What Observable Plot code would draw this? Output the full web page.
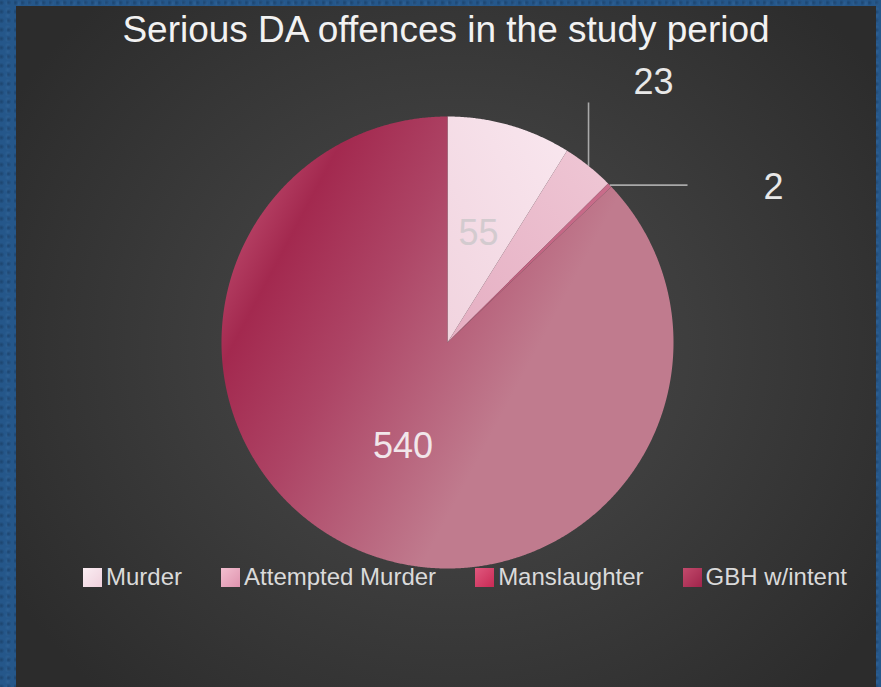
<!DOCTYPE html>
<html>
<head>
<meta charset="utf-8">
<script src="https://cdn.jsdelivr.net/npm/d3@7"></script>
<script src="https://cdn.jsdelivr.net/npm/@observablehq/plot@0.6"></script>
<style>
  html, body { margin: 0; padding: 0; width: 881px; height: 687px; overflow: hidden; }
  body {
    background-color: #25578a;
    background-image:
      radial-gradient(circle at 20% 30%, rgba(20,50,85,0.5) 0, rgba(20,50,85,0) 3px),
      radial-gradient(circle at 70% 60%, rgba(60,110,160,0.4) 0, rgba(60,110,160,0) 3px);
    background-size: 7px 9px, 11px 6px;
    font-family: "Liberation Sans", Arial, sans-serif;
    position: relative;
  }
  #panel {
    position: absolute; left: 16px; top: 6px; width: 860px; height: 681px;
    background: radial-gradient(ellipse 60% 70% at 51% 50%, #484848 0%, #3e3e3e 45%, #2c2c2c 100%);
  }
  #title {
    position: absolute; left: 0; top: 5px; width: 860px; text-align: center;
    font-size: 37px; line-height: 37px; color: #f2f2f2; white-space: nowrap;
  }
  #chart { position: absolute; left: 0; top: 44px; }
  #legend {
    position: absolute; left: 67px; top: 559px; display: flex; align-items: center;
    gap: 39px; font-size: 24px; line-height: 24px; color: #dadada; white-space: nowrap;
  }
  .item { display: flex; align-items: center; gap: 4px; }
  .sw { width: 19px; height: 19px; display: inline-block; }
</style>
</head>
<body>
<svg width="0" height="0" style="position:absolute">
  <defs>
    <linearGradient id="gMurder" x1="1" y1="0" x2="0" y2="1">
      <stop offset="0" stop-color="#f9e7ef"/>
      <stop offset="1" stop-color="#f1d4df"/>
    </linearGradient>
    <linearGradient id="gAttempt" x1="1" y1="0" x2="0" y2="1">
      <stop offset="0" stop-color="#efc7d5"/>
      <stop offset="1" stop-color="#e5aec2"/>
    </linearGradient>
    <linearGradient id="gMans" x1="1" y1="0" x2="0" y2="1">
      <stop offset="0" stop-color="#c96d8b"/>
      <stop offset="1" stop-color="#bd5a7a"/>
    </linearGradient>
    <linearGradient id="gGBH" x1="0" y1="0.38" x2="0.6" y2="0.7">
      <stop offset="0" stop-color="#b23c60"/>
      <stop offset="0.12" stop-color="#a3294f"/>
      <stop offset="0.45" stop-color="#ad4465"/>
      <stop offset="1" stop-color="#c07b8e"/>
    </linearGradient>
  </defs>
</svg>
<div id="panel">
  <div id="title">Serious DA offences in the study period</div>
  <div id="chart"></div>
  <div id="legend"></div>
</div>
<script>
// ---- data ----
const categories = ["Murder", "Attempted Murder", "Manslaughter", "GBH w/intent"];
const counts = [55, 23, 2, 540];
const valueLabels = ["55", "23", "2", "540"];

// ---- styles ----
const sliceFills = ["url(#gMurder)", "url(#gAttempt)", "url(#gMans)", "url(#gGBH)"];
const legendSwatches = [
  "linear-gradient(135deg, #fbeef3, #efd0dc)",
  "linear-gradient(135deg, #f2bfd0, #df93ae)",
  "linear-gradient(135deg, #e0587e, #c92a55)",
  "linear-gradient(135deg, #c24a6c, #a0244b)"
];

// ---- geometry from data ----
const arcs = d3.pie().sort(null).value(d => d)(counts);
const wedges = arcs.map((a, i) => {
  const n = Math.max(4, Math.ceil((a.endAngle - a.startAngle) / 0.005));
  const pts = [{x: 0, y: 0}];
  for (let k = 0; k <= n; k++) {
    const t = a.startAngle + (a.endAngle - a.startAngle) * k / n;
    pts.push({x: Math.sin(t), y: Math.cos(t)});
  }
  return pts;
});
const mids = arcs.map(a => (a.startAngle + a.endAngle) / 2);

// inside labels (Murder, GBH) at half radius
const inside = [0, 3].map(i => ({
  label: valueLabels[i], x: 0.5 * Math.sin(mids[i]), y: 0.5 * Math.cos(mids[i]), i
}));
// outside labels with leader lines (Attempted Murder, Manslaughter)
const elbow = 1.062;
const leaders = [
  {i: 1, x1: Math.sin(mids[1]), y1: Math.cos(mids[1]), x2: Math.sin(mids[1]), y2: elbow, dx: 65, dy: -20},
  {i: 2, x1: Math.sin(mids[2]), y1: Math.cos(mids[2]), x2: elbow, y2: Math.cos(mids[2]), dx: 86, dy: 2}
];

const R = 226;
const W = 860, H = 560;
const cx = 431, cy = 292;

const plot = Plot.plot({
  width: W, height: H,
  marginLeft: cx - R, marginRight: W - (cx + R),
  marginTop: cy - R, marginBottom: H - (cy + R),
  x: {domain: [-1, 1], axis: null},
  y: {domain: [-1, 1], axis: null},
  style: {background: "transparent", overflow: "visible", fontFamily: "'Liberation Sans', Arial, sans-serif"},
  marks: [
    ...wedges.map((pts, i) => Plot.line(pts, {x: "x", y: "y", fill: sliceFills[i], stroke: "none"})),
    Plot.link(leaders, {x1: "x1", y1: "y1", x2: "x2", y2: "y2", stroke: "#a9a9a9", strokeWidth: 1.6}),
    Plot.text([inside[0]], {x: "x", y: "y", text: "label", fill: "#d3cbcf", fontSize: 36}),
    Plot.text([inside[1]], {x: "x", y: "y", text: "label", fill: "#f1e6ea", fontSize: 36}),
    ...leaders.map(d => Plot.text([d], {x: "x2", y: "y2", text: () => valueLabels[d.i], dx: d.dx, dy: d.dy, fill: "#e8e8e8", fontSize: 36}))
  ]
});
document.getElementById("chart").appendChild(plot);

// ---- legend ----
const legend = document.getElementById("legend");
categories.forEach((c, i) => {
  const item = document.createElement("div");
  item.className = "item";
  const sw = document.createElement("span");
  sw.className = "sw";
  sw.style.background = legendSwatches[i];
  const t = document.createElement("span");
  t.textContent = c;
  item.appendChild(sw); item.appendChild(t);
  legend.appendChild(item);
});
</script>
</body>
</html>
